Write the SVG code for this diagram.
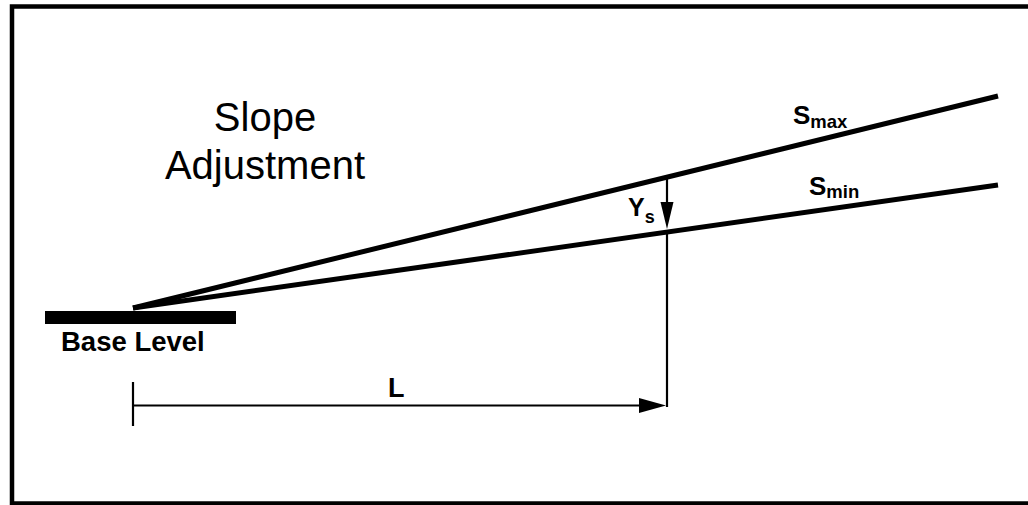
<svg xmlns="http://www.w3.org/2000/svg" width="1028" height="505" viewBox="0 0 1028 505">
<style>
.t{font-family:"Liberation Sans",Arial,sans-serif;fill:#000}
.b{font-weight:bold}
.slope{stroke:#000;stroke-width:5;fill:none;stroke-linecap:butt}
.thin{stroke:#000;stroke-width:2.2;fill:none}
</style>
<rect width="1028" height="505" fill="#fff"/>
<rect id="frame" x="12" y="6.5" width="1030" height="497" fill="none" stroke="#000" stroke-width="4.5"/>
<g id="title">
<text class="t" x="265" y="130.5" font-size="40" text-anchor="middle">Slope</text>
<text class="t" x="265" y="179" font-size="40" text-anchor="middle">Adjustment</text>
</g>
<g id="base-level">
<rect x="45" y="311" width="191" height="13" fill="#000"/>
<text class="t b" x="61" y="350.5" font-size="27.5">Base Level</text>
</g>
<g id="connectors">
<line id="smax-line" class="slope" x1="133" y1="308" x2="998" y2="96"/>
<line id="smin-line" class="slope" x1="133" y1="308" x2="998" y2="185"/>
<line class="thin" x1="667" y1="177" x2="667" y2="203"/>
<polygon points="660.5,202 673.5,202 667,229" fill="#000"/>
<line class="thin" x1="667" y1="232" x2="667" y2="407"/>
<line class="thin" x1="133" y1="382" x2="133" y2="426"/>
<line class="thin" x1="133" y1="405.5" x2="640" y2="405.5"/>
<polygon points="639,398 639,413 666,405.5" fill="#000"/>
</g>
<g id="labels">
<text class="t b" x="793" y="123.5" font-size="26">S<tspan font-size="18.5" dy="4">max</tspan></text>
<text class="t b" x="809" y="195" font-size="26">S<tspan font-size="18.5" dy="3">min</tspan></text>
<text class="t b" x="628" y="216" font-size="25">Y<tspan font-size="18" dy="7">s</tspan></text>
<text class="t b" x="388" y="396.5" font-size="27">L</text>
</g>
</svg>
